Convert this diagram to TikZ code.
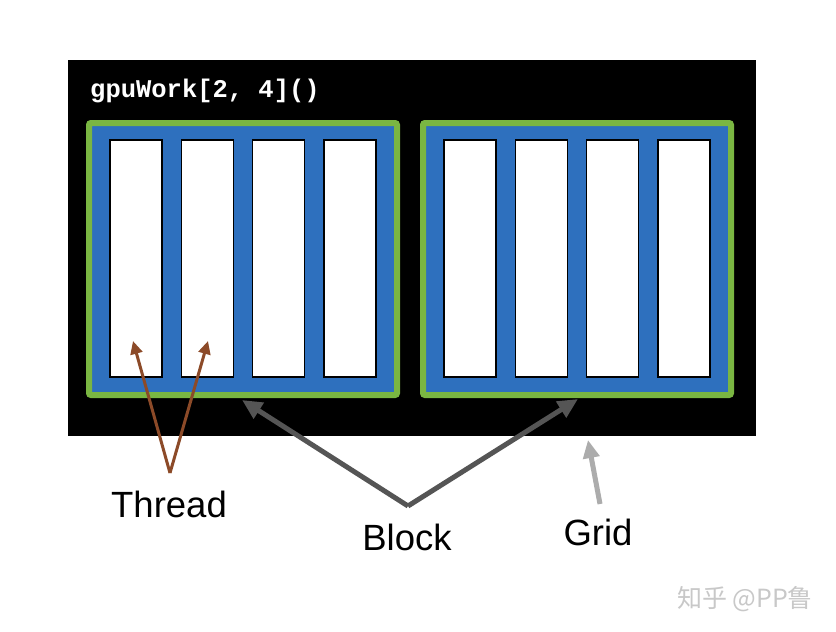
\documentclass[tikz,border=0pt]{standalone}
\usepackage{fontspec}
\setmainfont{Liberation Sans}
\newfontfamily\codefont{Liberation Mono}
\newfontfamily\cjk{Noto Sans CJK SC}
\usetikzlibrary{arrows.meta}
\definecolor{blockblue}{RGB}{46,112,190}
\definecolor{blockgreen}{RGB}{122,182,66}
\definecolor{threadbrown}{RGB}{140,74,40}
\definecolor{blockgray}{RGB}{85,85,85}
\definecolor{gridgray}{RGB}{172,172,172}
\definecolor{markgray}{RGB}{200,200,200}
\tikzset{
  gridbox/.style={fill=black, draw=none, minimum width=688pt, minimum height=376pt, inner sep=0pt},
  blockbox/.style={fill=blockblue, draw=blockgreen, line width=6pt, rounded corners=2pt, minimum width=308pt, minimum height=272pt, inner sep=0pt},
  threadbox/.style={fill=white, draw=black, line width=1.5pt, minimum width=52pt, minimum height=237pt, inner sep=0pt},
  lbl/.style={anchor=base, font=\fontsize{36.5}{40}\selectfont, inner sep=0pt},
  threadarrow/.style={draw=threadbrown, line width=3pt, -{Triangle[length=13pt,width=12pt]}},
  blockarrow/.style={draw=blockgray, line width=5pt, line join=round, -{Triangle[length=20pt,width=18pt]}},
  gridarrow/.style={draw=gridgray, line width=5pt, -{Triangle[length=18pt,width=16pt]}}
}
\begin{document}
\begin{tikzpicture}[x=1pt,y=-1pt]
\useasboundingbox (0,0) rectangle (836,632);
\fill[white] (0,0) rectangle (836,632);
\node[gridbox] (grid) at (412,248) {};
\node[anchor=base west, inner sep=0pt, text=white, font=\codefont\bfseries\fontsize{25.5}{28}\selectfont] (code) at (90,97) {gpuWork[2, 4]()};
\node[blockbox] (b1) at (243,259) {};
\node[blockbox] (b2) at (577,259) {};
\foreach \b/\cx in {1/243, 2/577} {
  \node[threadbox] (t\b a) at (\cx-107,258.5) {};
  \node[threadbox] (t\b b) at (\cx-35.7,258.5) {};
  \node[threadbox] (t\b c) at (\cx+35.7,258.5) {};
  \node[threadbox] (t\b d) at (\cx+107,258.5) {};
}
\node[lbl] (lthread) at (169,517) {Thread};
\node[lbl] (lblock) at (407,550) {Block};
\node[lbl] (lgrid) at (598,545) {Grid};
\node[anchor=base, inner sep=0pt, text=markgray, font=\cjk\fontsize{25}{28}\selectfont] (mark) at (745,607) {知乎 @PP鲁};
\coordinate (tapex) at (170,473);
\coordinate (ttipa) at (133,341);
\coordinate (ttipb) at (208,341);
\coordinate (bapex) at (408,506);
\coordinate (btipa) at (242,400);
\coordinate (btipb) at (578,399);
\coordinate (gtail) at (600,504);
\coordinate (gtip) at (588,440);
\draw[threadarrow] (tapex) -- (ttipa);
\draw[threadarrow] (tapex) -- (ttipb);
\draw[blockarrow] (bapex) -- (btipa);
\draw[blockarrow] (bapex) -- (btipb);
\draw[gridarrow] (gtail) -- (gtip);
\end{tikzpicture}
\end{document}
